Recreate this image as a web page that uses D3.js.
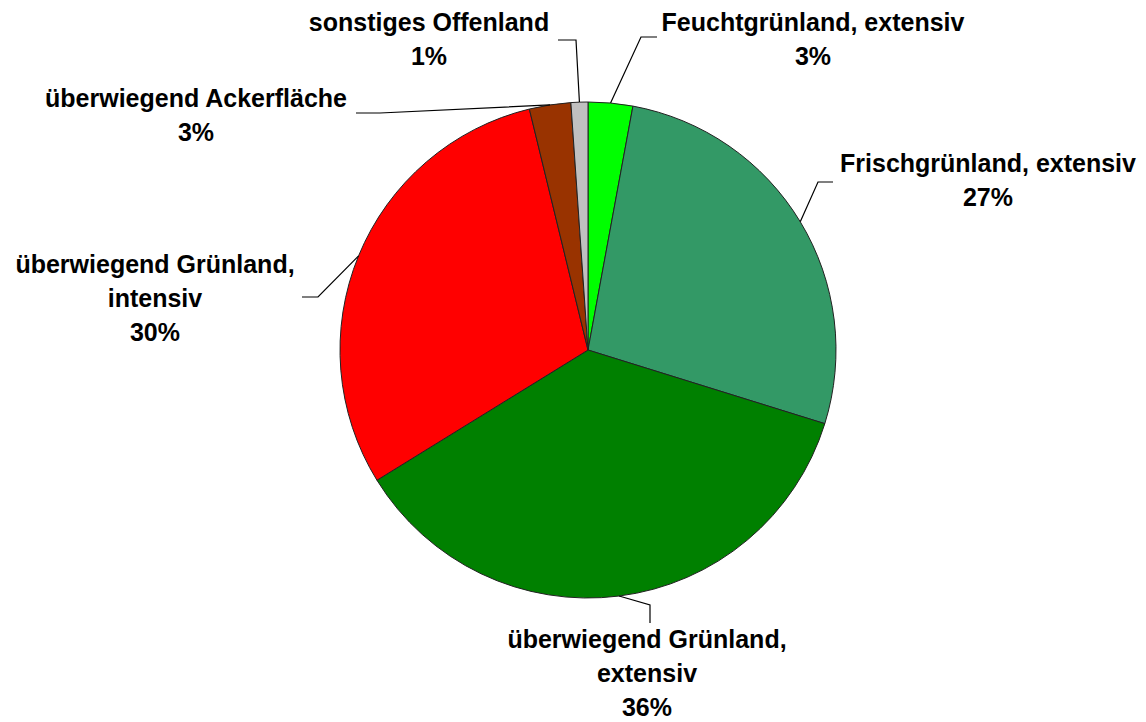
<!DOCTYPE html>
<html>
<head>
<meta charset="utf-8">
<script src="https://cdn.jsdelivr.net/npm/d3@7"></script>
<style>
  html, body { margin: 0; padding: 0; background: #fff; }
  svg { display: block; }
  text { font-family: "Liberation Sans", Arial, sans-serif; font-weight: bold; fill: #000; }
</style>
</head>
<body>
<svg id="chart" width="1146" height="722"></svg>
<script>
// ---- data ----
const categories = [
  "Feuchtgrünland, extensiv",
  "Frischgrünland, extensiv",
  "überwiegend Grünland, extensiv",
  "überwiegend Grünland, intensiv",
  "überwiegend Ackerfläche",
  "sonstiges Offenland"
];
const values = [2.9, 26.9, 36.4, 30.0, 2.7, 1.1];
const labelLines = [
  ["Feuchtgrünland, extensiv"],
  ["Frischgrünland, extensiv"],
  ["überwiegend Grünland,", "extensiv"],
  ["überwiegend Grünland,", "intensiv"],
  ["überwiegend Ackerfläche"],
  ["sonstiges Offenland"]
];
const colors = ["#00FF00", "#339966", "#008000", "#FF0000", "#993300", "#C0C0C0"];

// ---- layout (label placement) ----
const cx = 588, cy = 350, R = 248;
const fontSize = 25, lineGap = 34;
// label centre x, first baseline y, elbow point of leader, end point of leader
const labelLayout = [
  { x: 813, y: 31,  elbow: [641, 37],  end: [657, 37] },
  { x: 988, y: 172, elbow: [818, 182], end: [833, 182] },
  { x: 647, y: 648, elbow: [650, 605], end: [650, 623] },
  { x: 155, y: 273, elbow: [318, 297], end: [302, 297] },
  { x: 196, y: 107, elbow: [380, 113], end: [356, 113] },
  { x: 429, y: 31,  elbow: [576, 40],  end: [558, 40] }
];

const svg = d3.select("#chart");
const g = svg.append("g").attr("transform", `translate(${cx},${cy})`);

const pie = d3.pie().sort(null).value(d => d.v).startAngle(0).endAngle(2 * Math.PI);
const data = categories.map((c, i) => ({ c, v: values[i], i }));
const arcs = pie(data);
const arc = d3.arc().innerRadius(0).outerRadius(R);
const total = d3.sum(values);

g.selectAll("path.slice")
  .data(arcs)
  .join("path")
  .attr("class", "slice")
  .attr("d", arc)
  .attr("fill", d => colors[d.data.i])
  .attr("stroke", "#222")
  .attr("stroke-width", 1);

// leader lines
arcs.forEach(d => {
  const mid = (d.startAngle + d.endAngle) / 2;
  const ax = cx + R * Math.sin(mid), ay = cy - R * Math.cos(mid);
  const L = labelLayout[d.data.i];
  svg.append("polyline")
    .attr("points", [[ax, ay], L.elbow, L.end].map(p => p.join(",")).join(" "))
    .attr("fill", "none")
    .attr("stroke", "#000")
    .attr("stroke-width", 1.2);
});

// labels
arcs.forEach(d => {
  const L = labelLayout[d.data.i];
  const lines = labelLines[d.data.i].concat([Math.round(d.data.v / total * 100) + "%"]);
  const t = svg.append("text")
    .attr("text-anchor", "middle")
    .attr("font-size", fontSize);
  lines.forEach((s, k) => {
    t.append("tspan").attr("x", L.x).attr("y", L.y + k * lineGap).text(s);
  });
});
</script>
</body>
</html>
